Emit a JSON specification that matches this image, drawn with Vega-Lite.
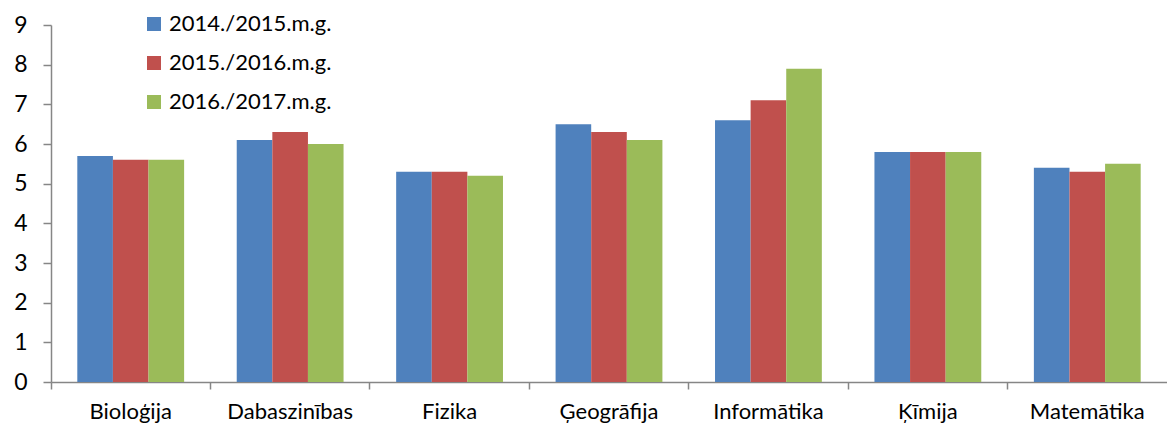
{
  "$schema": "https://vega.github.io/schema/vega-lite/v6.json",
  "autosize": "none",
  "width": 1116,
  "height": 357,
  "padding": {"left": 51, "top": 25, "right": 0, "bottom": 41},
  "background": "white",
  "config": {"view": {"stroke": null}, "font": "Lato"},
  "data": {"values": [
    {"c": "Bioloģija", "y": "2014./2015.m.g.", "v": 5.7},
    {"c": "Bioloģija", "y": "2015./2016.m.g.", "v": 5.6},
    {"c": "Bioloģija", "y": "2016./2017.m.g.", "v": 5.6},
    {"c": "Dabaszinības", "y": "2014./2015.m.g.", "v": 6.1},
    {"c": "Dabaszinības", "y": "2015./2016.m.g.", "v": 6.3},
    {"c": "Dabaszinības", "y": "2016./2017.m.g.", "v": 6.0},
    {"c": "Fizika", "y": "2014./2015.m.g.", "v": 5.3},
    {"c": "Fizika", "y": "2015./2016.m.g.", "v": 5.3},
    {"c": "Fizika", "y": "2016./2017.m.g.", "v": 5.2},
    {"c": "Ģeogrāfija", "y": "2014./2015.m.g.", "v": 6.5},
    {"c": "Ģeogrāfija", "y": "2015./2016.m.g.", "v": 6.3},
    {"c": "Ģeogrāfija", "y": "2016./2017.m.g.", "v": 6.1},
    {"c": "Informātika", "y": "2014./2015.m.g.", "v": 6.6},
    {"c": "Informātika", "y": "2015./2016.m.g.", "v": 7.1},
    {"c": "Informātika", "y": "2016./2017.m.g.", "v": 7.9},
    {"c": "Ķīmija", "y": "2014./2015.m.g.", "v": 5.8},
    {"c": "Ķīmija", "y": "2015./2016.m.g.", "v": 5.8},
    {"c": "Ķīmija", "y": "2016./2017.m.g.", "v": 5.8},
    {"c": "Matemātika", "y": "2014./2015.m.g.", "v": 5.4},
    {"c": "Matemātika", "y": "2015./2016.m.g.", "v": 5.3},
    {"c": "Matemātika", "y": "2016./2017.m.g.", "v": 5.5}
  ]},
  "mark": {"type": "bar"},
  "encoding": {
    "x": {
      "field": "c", "type": "nominal", "sort": null, "title": null,
      "scale": {"paddingInner": 0.33, "paddingOuter": 0.165},
      "axis": {
        "labelAngle": 0, "labelFontSize": 22, "labelColor": "#000000",
        "labelPadding": 12, "domainColor": "#868686", "domainWidth": 1.5,
        "tickColor": "#868686", "tickSize": 7, "tickWidth": 1.5,
        "bandPosition": -0.246
      }
    },
    "xOffset": {"field": "y", "type": "nominal", "sort": null, "scale": {"paddingInner": 0, "paddingOuter": 0}},
    "y": {
      "field": "v", "type": "quantitative", "title": null,
      "scale": {"domain": [0, 9], "nice": false},
      "axis": {
        "values": [0,1,2,3,4,5,6,7,8,9], "grid": false,
        "labelFontSize": 23, "labelColor": "#000000", "labelPadding": 16,
        "domainColor": "#868686", "domainWidth": 1.5,
        "tickColor": "#868686", "tickSize": 8, "tickWidth": 1.5
      }
    },
    "color": {
      "field": "y", "type": "nominal", "sort": null,
      "scale": {"range": ["#4F81BD", "#C0504D", "#9BBB59"]},
      "legend": {
        "title": null, "orient": "none", "legendX": 92, "legendY": -12,
        "symbolType": "square", "symbolSize": 196, "symbolStrokeWidth": 0,
        "labelFontSize": 22, "labelColor": "#000000", "labelOffset": 4,
        "labelLimit": 400, "rowPadding": 17
      }
    }
  }
}
